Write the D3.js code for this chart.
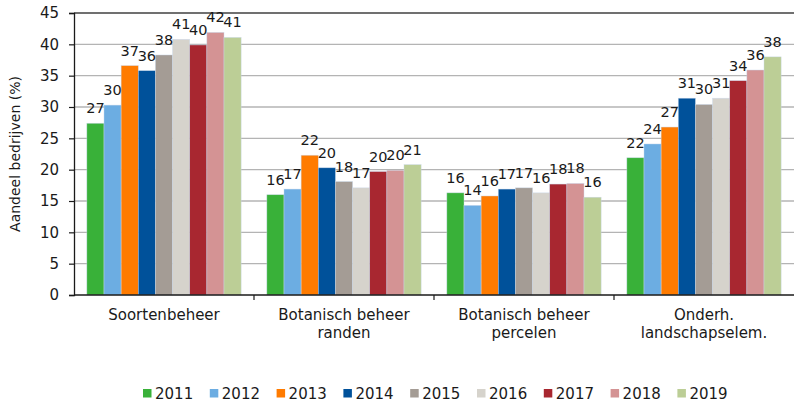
<!DOCTYPE html>
<html>
<head>
<meta charset="utf-8">
<script src="https://cdn.jsdelivr.net/npm/d3@7/dist/d3.min.js"></script>
<style>
  html, body { margin: 0; padding: 0; background: #fff; }
  svg { display: block; font-family: "DejaVu Sans", Verdana, sans-serif; }
</style>
</head>
<body>
<div id="chart"></div>
<script>
// ── Données ───────────────────────────────────────────────────────────────
const categories = ['Soortenbeheer', 'Botanisch beheer|randen', 'Botanisch beheer|percelen', 'Onderh.|landschapselem.'];
const years = ['2011', '2012', '2013', '2014', '2015', '2016', '2017', '2018', '2019'];
const colors = ['#39b139', '#6cade2', '#ff7b00', '#00519a', '#a49c95', '#d6d3cc', '#a82730', '#d49394', '#bcce96'];

// waarden per categorie, per jaar (2011..2019)
const soortenbeheer = [27.4, 30.3, 36.6, 35.8, 38.3, 40.8, 39.9, 41.9, 41.1];
const botRanden     = [16.0, 16.9, 22.3, 20.3, 18.1, 17.1, 19.7, 19.9, 20.8];
const botPercelen   = [16.3, 14.3, 15.8, 16.9, 17.1, 16.3, 17.7, 17.8, 15.6];
const landschap     = [21.9, 24.1, 26.8, 31.4, 30.4, 31.4, 34.2, 35.9, 38.0];
const series = [soortenbeheer, botRanden, botPercelen, landschap];

const yTicks = [0, 5, 10, 15, 20, 25, 30, 35, 40, 45];

// ── Grafiek ───────────────────────────────────────────────────────────────
const W = 794, H = 403;
const m = { top: 13, right: 0, bottom: 108, left: 74 };

const svg = d3.select('#chart').append('svg').attr('width', W).attr('height', H);

const x0 = d3.scaleBand().domain(categories).range([m.left, W - m.right]);
const x1 = d3.scaleBand().domain(years).range([0, x0.bandwidth()]).paddingOuter(0.75);
const y = d3.scaleLinear().domain([0, 45]).range([H - m.bottom, m.top]);

// rasterlijnen
svg.append('g').selectAll('line').data(yTicks.filter(t => t > 0)).enter().append('line')
  .attr('x1', m.left).attr('x2', W)
  .attr('y1', d => y(d)).attr('y2', d => y(d))
  .attr('stroke', d => d === 45 ? '#404040' : '#b4b4b4')
  .attr('stroke-width', 1.3);

// staven
const groups = svg.append('g').selectAll('g').data(categories).enter().append('g')
  .attr('transform', d => `translate(${x0(d)},0)`);

groups.selectAll('rect').data((d, i) => series[i].map((v, j) => ({ year: years[j], v, c: colors[j] })))
  .enter().append('rect')
  .attr('x', d => x1(d.year)).attr('width', x1.bandwidth())
  .attr('y', d => y(d.v)).attr('height', d => y(0) - y(d.v))
  .attr('fill', d => d.c)
  .attr('stroke', 'rgba(200,215,235,0.7)').attr('stroke-width', 0.6);

groups.selectAll('text').data((d, i) => series[i].map((v, j) => ({ year: years[j], v })))
  .enter().append('text')
  .attr('x', d => x1(d.year) + x1.bandwidth() / 2)
  .attr('y', d => y(d.v) - 10)
  .attr('text-anchor', 'middle')
  .attr('font-size', '14.5px').attr('fill', '#1a1a1a')
  .text(d => Math.round(d.v));

// y-as
const yAxis = svg.append('g').attr('transform', `translate(${m.left},0)`)
  .call(d3.axisLeft(y).tickValues(yTicks).tickSize(5).tickPadding(10));
yAxis.select('.domain').attr('stroke', '#1a1a1a').attr('stroke-width', 1.3);
yAxis.selectAll('.tick line').attr('stroke', '#1a1a1a').attr('stroke-width', 1.2);
yAxis.selectAll('.tick text').attr('font-size', '15px').attr('fill', '#1a1a1a')
  .attr('font-family', '"DejaVu Sans", Verdana, sans-serif');

// x-as
svg.append('line').attr('x1', m.left).attr('x2', W)
  .attr('y1', y(0)).attr('y2', y(0)).attr('stroke', '#1a1a1a').attr('stroke-width', 1.3);
svg.append('g').selectAll('line').data(categories.slice(1)).enter().append('line')
  .attr('x1', d => x0(d)).attr('x2', d => x0(d))
  .attr('y1', y(0)).attr('y2', y(0) + 5)
  .attr('stroke', '#1a1a1a').attr('stroke-width', 1.2);

// categorielabels
svg.append('g').selectAll('text').data(categories).enter().append('text')
  .attr('x', d => x0(d) + x0.bandwidth() / 2)
  .attr('y', 320)
  .attr('text-anchor', 'middle').attr('font-size', '15px').attr('fill', '#1a1a1a')
  .each(function(d) {
    d.split('|').forEach((line, i) => {
      d3.select(this).append('tspan')
        .attr('x', x0(d) + x0.bandwidth() / 2).attr('dy', i === 0 ? 0 : 18).text(line);
    });
  });

// y-astitel
svg.append('text')
  .attr('transform', `translate(20,${(m.top + H - m.bottom) / 2}) rotate(-90)`)
  .attr('text-anchor', 'middle').attr('font-size', '14px').attr('fill', '#1a1a1a')
  .text('Aandeel bedrijven (%)');

// legenda
const legend = svg.append('g').selectAll('g').data(years).enter().append('g')
  .attr('transform', (d, i) => `translate(${143 + i * 66.8},0)`);
legend.append('rect').attr('x', 0).attr('y', 389).attr('width', 8.5).attr('height', 8.5)
  .attr('fill', (d, i) => colors[i]);
legend.append('text').attr('x', 12).attr('y', 398.5)
  .attr('font-size', '15px').attr('fill', '#1a1a1a').text(d => d);
</script>
</body>
</html>
